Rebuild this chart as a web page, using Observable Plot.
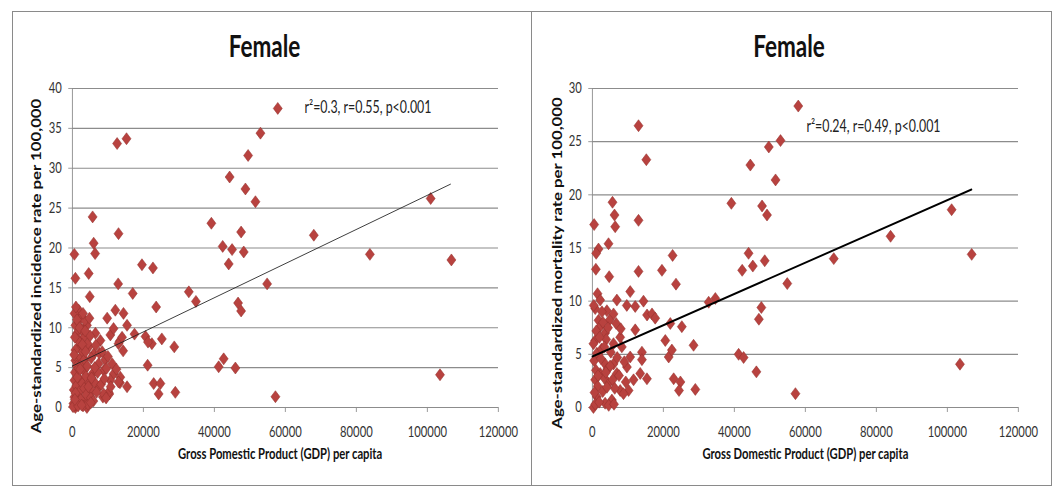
<!DOCTYPE html>
<html><head><meta charset="utf-8">
<script src="https://cdn.jsdelivr.net/npm/d3@7"></script>
<script src="https://cdn.jsdelivr.net/npm/@observablehq/plot@0.6"></script>
<style>
body{margin:0;background:#fff;width:1059px;height:488px;overflow:hidden;position:relative;font-family:Lato,sans-serif}
.panel{position:absolute;top:0;height:488px;transform:scaleX(0.75);transform-origin:0 0}
.panel svg{position:absolute;left:0;top:0}
.frame{position:absolute;top:11px;height:475px;border:1.5px solid #8a8a8a;box-sizing:border-box}
.title{position:absolute;top:30px;width:400px;text-align:center;font:bold 30px/30px Lato,sans-serif;color:#111}
</style></head>
<body>
<div class="frame" style="left:12px;width:520px"></div>
<div class="frame" style="left:531px;width:521px"></div>
<div id="left" class="panel" style="left:0;width:709.33px"></div>
<div id="right" class="panel" style="left:532px;width:702.67px"></div>
<script>
// ---- data ----
const titles = ["Female", "Female"];
const xTicks = [0, 20000, 40000, 60000, 80000, 100000, 120000];
const yTicksIncidence = [0, 5, 10, 15, 20, 25, 30, 35, 40];
const yTicksMortality = [0, 5, 10, 15, 20, 25, 30];
const xLabels = ["Gross Pomestic Product (GDP) per capita", "Gross Domestic Product (GDP) per capita"];
const yLabels = ["Age-standardized incidence rate per 100,000", "Age-standardized mortality rate per 100,000"];
const notes = ["r\u00b2=0.3, r=0.55, p<0.001", "r\u00b2=0.24, r=0.49, p<0.001"];
const noteAnchors = [[65400, 37.6], [60300, 26.4]];
const trendIncidence = [[0, 5.2], [106500, 28.0]];
const trendMortality = [[0, 4.8], [106800, 20.5]];

// [GDP per capita, incidence rate]
const incidencePoints = [
[57860,37.5],[12600,33.1],[15250,33.7],[52980,34.4],[49500,31.6],[44300,28.9],[48750,27.4],[51570,25.8],[100930,26.2],[5700,23.9],[39150,23.1],[13000,21.8],[47530,22.0],[68010,21.6],[6000,20.6],[6400,19.3],[560,19.2],[42340,20.2],[44990,19.8],[48270,19.5],[83810,19.2],[106770,18.5],[44040,18.0],[19600,17.9],[22700,17.5],[4600,16.8],[850,16.2],[12900,15.5],[54860,15.5],[17000,14.3],[32800,14.5],[34800,13.3],[4900,13.9],[23600,12.6],[46680,13.1],[47530,12.1],[12100,12.2],[14400,11.8],[9800,11.2],[15400,10.3],[17500,9.2],[10700,9.1],[20600,8.9],[22400,8.0],[25200,8.6],[28700,7.6],[14300,7.1],[13300,8.3],[21200,5.3],[41210,5.1],[42620,6.1],[45920,4.95],[103560,4.1],[13400,3.1],[22900,3.0],[24800,3.0],[24300,1.7],[29000,1.9],[15400,2.6],[57200,1.35],[10400,1.7],[8600,1.3],[11600,9.9],[13000,8.0],[14000,8.8],[21300,8.2],
[1800,12.2],[2700,11.4],[4100,10.3],[850,10.3],[1300,9.3],[1800,7.6],[3200,8.8],[6500,9.3],[7900,8.4],[850,7.2],[850,5.9],[2300,6.3],[4600,7.6],[6000,6.7],[7400,5.5],[8800,4.65],[11600,4.2],[13500,3.8],[13000,3.2],[10700,3.4],[10200,1.9],[8800,1.7],[7400,2.55],[5500,2.1],[3700,0.9],[1800,1.3],[850,0.0],[4100,0.0],[560,3.4],[560,1.3],[2300,3.4],[3200,4.6],[9200,6.0],[9600,4.9],[11200,5.5],
[300,0.5],[400,2.2],[700,4.4],[1000,0.3],[1100,2.7],[1200,5.2],[1400,3.8],[1500,0.7],[1600,10.8],[1700,4.9],[2000,2.0],[2100,8.2],[2400,1.0],[2500,5.4],[2600,9.8],[2800,3.0],[2900,7.0],[3000,0.2],[3300,2.4],[3400,6.0],[3500,10.9],[3800,3.9],[3900,1.6],[4200,5.2],[4300,8.0],[4400,0.4],[4800,3.1],[5000,9.0],[5200,1.2],[5300,6.2],[5600,4.2],[5900,0.8],[6200,3.2],[6600,7.8],[6800,1.9],[7100,4.4],[7600,6.8],[8100,2.9],[8400,7.0],[9000,3.6],[9500,1.2],[10000,6.4],[10800,2.6],[12400,4.8],[600,11.8],[1000,12.6],[1300,11.0],[2000,10.0],[3000,11.8],[3600,9.6],[4800,11.2],[1500,8.5],[700,8.8],[500,6.6],[2800,7.9],[3700,7.0],[2200,4.8],[4500,2.6],[5400,3.7],[6300,5.0],[900,1.8],[200,0.1],[1600,0.2],[2600,0.3],[5200,0.6],[700,1.0]
];

// [GDP per capita, mortality rate]
const mortalityPoints = [
[58000,28.35],[13000,26.5],[53000,25.1],[49700,24.5],[15200,23.3],[44500,22.8],[51600,21.4],[39150,19.2],[47800,18.95],[49200,18.1],[101200,18.6],[5670,19.3],[6240,18.1],[6430,17.0],[13000,17.6],[500,17.2],[84000,16.1],[4550,15.4],[1730,14.9],[1070,14.5],[22600,14.3],[44000,14.5],[45200,13.3],[48550,13.8],[42200,12.9],[68000,14.0],[106850,14.4],[13000,12.8],[19600,12.9],[980,13.0],[4740,12.3],[23550,11.6],[54900,11.65],[1450,10.7],[10660,10.9],[32760,9.9],[34640,10.25],[800,9.3],[9700,9.6],[12070,9.5],[14400,10.0],[15400,8.7],[16800,8.8],[17700,8.4],[47600,9.4],[46900,8.3],[21950,7.9],[25200,7.6],[12070,7.3],[20540,6.3],[28500,5.85],[21500,4.75],[22400,5.4],[41200,5.0],[42600,4.7],[46200,3.35],[103550,4.07],[57200,1.3],[13960,5.2],[13960,4.5],[13480,3.2],[15370,2.7],[22900,2.7],[24800,2.4],[24400,1.6],[29000,1.7],[10660,4.75],[9730,3.8],[11600,2.6],[10200,1.6],
[2200,10.1],[4090,9.1],[5960,8.8],[7840,6.6],[8300,5.7],[1730,8.2],[790,6.3],[2200,7.6],[3600,7.0],[5950,6.0],[1260,5.1],[3600,4.1],[5950,4.1],[2200,3.2],[6900,3.2],[790,2.6],[4540,2.25],[7840,1.6],[1260,1.0],[3600,0.4],[300,0.0],[5500,0.7],[8770,1.3],[6900,10.1],[4800,8.2],[3000,8.0],[6700,7.9],[300,6.0],[500,4.4],[1000,3.5],[1500,2.0],[2600,5.5],[2900,1.5],[3300,2.8],[3900,6.4],[4200,3.6],[4600,0.2],[5200,5.2],[5700,2.6],[6300,1.8],[7000,4.7],[7500,3.0],[8000,7.4],[9000,4.3],[9400,2.4],[600,1.4],[800,0.3],[1100,7.2],[1900,0.5],[2400,4.6],[2700,9.0],[3400,5.7],[4100,1.9],[4400,7.5],[5000,3.9],[6100,0.3],[1600,3.0],[400,9.6],[3800,3.3],[2000,6.6]
];

// ---- drawing ----
const GRID = "#8c8c8c";
function panel(o) {
  const svg = Plot.plot({
    width: o.width, height: 488,
    marginLeft: o.ml, marginRight: o.mr, marginTop: 88, marginBottom: 81,
    x: {domain: [0, 120000]},
    y: {domain: [0, o.ymax]},
    style: {fontFamily: "Lato, sans-serif", fontSize: "15px", color: "#333", background: "transparent", overflow: "visible"},
    marks: [
      Plot.gridY(o.yTicks, {stroke: GRID, strokeOpacity: 1, strokeWidth: 1.2}),
      Plot.ruleX([0], {stroke: GRID, strokeWidth: 1.2}),
      Plot.axisY(o.yTicks, {tickSize: 5, tickPadding: 9, stroke: GRID, label: null, tickFormat: d => String(d)}),
      Plot.axisX(xTicks, {tickSize: 5, tickPadding: 14, stroke: GRID, label: null, tickFormat: d => String(d)}),
      Plot.ruleY([0], {stroke: GRID, strokeWidth: 1.2}),
      Plot.dot(o.points, {x: d => d[0], y: d => d[1], symbol: "diamond2", r: 5.4, fill: "#b8423f", stroke: "#93302d", strokeWidth: 0.6}),
      Plot.line(o.trend, {x: d => d[0], y: d => d[1], stroke: o.trendColor, strokeWidth: o.trendWidth}),
      Plot.text([o.note], {x: o.noteAt[0], y: o.noteAt[1], textAnchor: "start", fontSize: 16.5, fill: "#222"}),
      Plot.text([o.ylab], {frameAnchor: "left", textAnchor: "middle", rotate: -90, dx: o.ylabDx, dy: o.ylabDy, fontFamily: "Lato, sans-serif", fontWeight: "bold", fontSize: 16.8, fill: "#111"}),
      Plot.text([o.xlab], {frameAnchor: "bottom", dx: o.xlabDx, dy: 52, fontWeight: "bold", fontSize: 15, fill: "#111"})
    ]
  });
  const host = document.getElementById(o.id);
  host.appendChild(svg);
  const t = document.createElement("div");
  t.className = "title";
  t.textContent = o.title;
  t.style.left = (o.titleCx - 200) + "px";
  host.appendChild(t);
}

panel({id: "left", width: 709.33, ml: 96, mr: 45.33, ymax: 40, yTicks: yTicksIncidence,
  points: incidencePoints, trend: trendIncidence, trendColor: "#222", trendWidth: 1,
  note: notes[0], noteAt: noteAnchors[0], ylab: yLabels[0], ylabDx: -47, ylabDy: 18,
  xlab: xLabels[0], xlabDx: -7, title: titles[0], titleCx: 352.7});

panel({id: "right", width: 702.67, ml: 80, mr: 54.67, ymax: 30, yTicks: yTicksMortality,
  points: mortalityPoints, trend: trendMortality, trendColor: "#000", trendWidth: 2,
  note: notes[1], noteAt: noteAnchors[1], ylab: yLabels[1], ylabDx: -46, ylabDy: 15,
  xlab: xLabels[1], xlabDx: 0, title: titles[1], titleCx: 342.7});
</script>
</body></html>
